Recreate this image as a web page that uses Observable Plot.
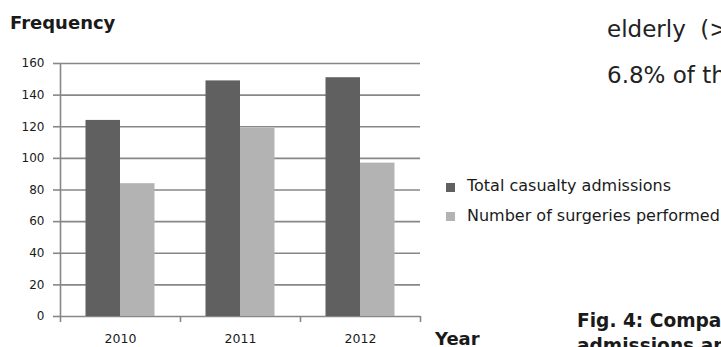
<!DOCTYPE html>
<html>
<head>
<meta charset="utf-8">
<script src="https://cdn.jsdelivr.net/npm/d3@7"></script>
<script src="https://cdn.jsdelivr.net/npm/@observablehq/plot@0.6"></script>
<style>
  html, body { margin: 0; padding: 0; background: #fff; }
  #wrap { position: relative; width: 721px; height: 347px; overflow: hidden; font-family: "DejaVu Sans", Verdana, sans-serif; color: #1a1a1a; }
  #chart { position: absolute; left: 0; top: 0; }
  .abs { position: absolute; white-space: nowrap; line-height: 1; }
  .bold { font-weight: bold; }
  .sw { position: absolute; width: 9px; height: 9px; }
  #chart svg text { font-size: 12px; }
  #chart svg g.years text { font-size: 12.5px; }
</style>
</head>
<body>
<div id="wrap">
  <div id="chart"></div>
  <div class="abs bold" style="left:10px; top:14px; font-size:18px;">Frequency</div>
  <div class="abs bold" style="left:435px; top:329.5px; font-size:18px;">Year</div>
  <div class="abs" style="left:607px; top:18px; font-size:23px; color:#222;">elderly &nbsp;(&gt;60 years) accounted for</div>
  <div class="abs" style="left:607px; top:63.5px; font-size:23px; color:#222;">6.8% of the total</div>
  <div class="abs bold" style="left:577px; top:312px; font-size:18.6px;">Fig. 4: Comparison of casualty</div>
  <div class="abs bold" style="left:577px; top:337px; font-size:18.6px;">admissions and surgeries</div>
  <div id="legend"></div>
</div>
<script>
const years = [2010, 2011, 2012];
const totalAdmissions = [124, 149, 151];
const surgeries = [84, 119, 97];
const seriesNames = ["Total casualty admissions", "Number of surgeries performed"];
const seriesColors = ["#606060", "#b3b3b3"];
const yTicks = [0, 20, 40, 60, 80, 100, 120, 140, 160];

const rowsTotal = years.map((year, i) => ({year, value: totalAdmissions[i], series: seriesNames[0]}));
const rowsSurg = years.map((year, i) => ({year, value: surgeries[i], series: seriesNames[1]}));
const boundaries = years.map(y => y - 0.5).concat([years[years.length - 1] + 0.5]);
const gridColor = "#878787";

const chart = Plot.plot({
  width: 721,
  height: 347,
  marginLeft: 60,
  marginRight: 301,
  marginTop: 63,
  marginBottom: 31,
  style: {fontFamily: "'DejaVu Sans', Verdana, sans-serif", fontSize: "12px", color: "#1a1a1a", background: "transparent"},
  x: {type: "linear", domain: [boundaries[0], boundaries[boundaries.length - 1]]},
  y: {domain: [0, 160]},
  marks: [
    Plot.ruleY(yTicks, {stroke: gridColor, strokeWidth: 1.6}),
    Plot.rectY(rowsTotal, {x1: d => d.year - 0.5, x2: d => d.year + 0.5, y: "value", fill: seriesColors[0], insetLeft: 25.5, insetRight: 60}),
    Plot.rectY(rowsSurg, {x1: d => d.year - 0.5, x2: d => d.year + 0.5, y: "value", fill: seriesColors[1], insetLeft: 60, insetRight: 25.5}),
    Plot.ruleX([boundaries[0]], {stroke: gridColor, strokeWidth: 1.6, insetBottom: -6}),
    Plot.axisY({ticks: yTicks, tickSize: 7, tickPadding: 9, stroke: gridColor, strokeWidth: 1.6, label: null, fontSize: 12}),
    Plot.axisX({ticks: boundaries.slice(1), tickSize: 6, tickFormat: () => "", stroke: gridColor, strokeWidth: 1.6, label: null}),
    Plot.axisX({ticks: years, tickSize: 0, tickPadding: 17.5, tickFormat: "d", label: null, fontSize: 12.5, className: "years"})
  ]
});
document.getElementById("chart").appendChild(chart);

const legend = document.getElementById("legend");
const legendTops = [182.5, 212];
seriesNames.forEach((name, i) => {
  const sw = document.createElement("div");
  sw.className = "sw";
  sw.style.left = "446px";
  sw.style.top = legendTops[i] + "px";
  sw.style.background = seriesColors[i];
  legend.appendChild(sw);
  const t = document.createElement("div");
  t.className = "abs";
  t.style.left = "467px";
  t.style.top = (legendTops[i] + 9 - 13.5) + "px";
  t.style.fontSize = "16px";
  t.textContent = name;
  legend.appendChild(t);
});
</script>
</body>
</html>
